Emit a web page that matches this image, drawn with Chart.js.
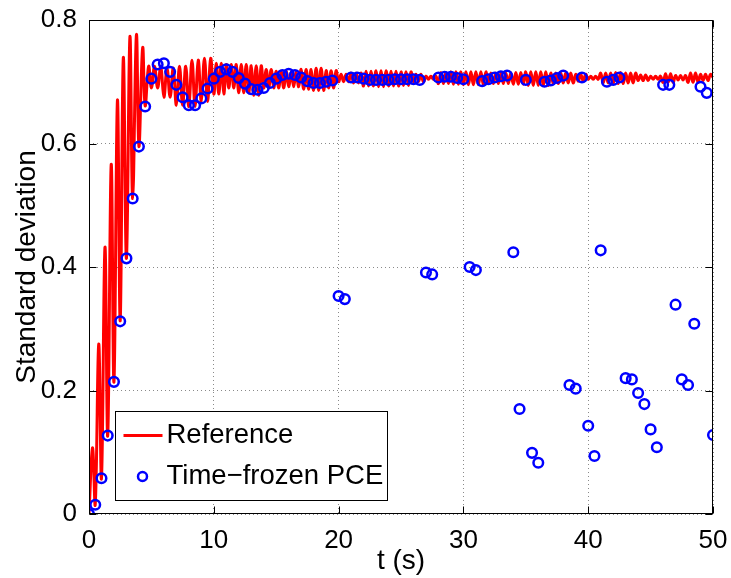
<!DOCTYPE html>
<html lang="en">
<head>
<meta charset="UTF-8">
<title>Standard deviation</title>
<script src="https://cdn.jsdelivr.net/npm/chart.js"></script>
<style>
  html, body { margin: 0; padding: 0; background: #fff; }
</style>
</head>
<body>
<canvas id="chart" width="731" height="578"></canvas>
<script>
  // circles: time-frozen PCE, sampled every 0.5 s
  const pceT = Array.from({length: 101}, (_, i) => i * 0.5);
  const pceV = [
    0.000, 0.015, 0.058, 0.127, 0.214, 0.312, 0.414, 0.511, 0.595, 0.660,
    0.705, 0.728, 0.730, 0.716, 0.695, 0.675, 0.662, 0.662, 0.673, 0.689,
    0.705, 0.716, 0.720, 0.716, 0.706, 0.697, 0.688, 0.687, 0.690, 0.698,
    0.705, 0.711, 0.713, 0.711, 0.707, 0.701, 0.698, 0.698, 0.700, 0.702,
    0.353, 0.348, 0.707, 0.707, 0.705, 0.703, 0.703, 0.703, 0.703, 0.704,
    0.704, 0.704, 0.704, 0.703, 0.391, 0.388, 0.707, 0.708, 0.708, 0.706,
    0.704, 0.400, 0.395, 0.701, 0.704, 0.707, 0.709, 0.710, 0.424, 0.170,
    0.703, 0.099, 0.083, 0.700, 0.702, 0.706, 0.710, 0.209, 0.203, 0.707,
    0.143, 0.094, 0.427, 0.700, 0.703, 0.707, 0.220, 0.218, 0.196, 0.178,
    0.137, 0.108, 0.695, 0.695, 0.339, 0.218, 0.209, 0.308, 0.692, 0.682,
    0.128
  ];

  // reference: initial rise, peaks and troughs
  const riseT = [0, 0.28, 0.5, 0.78, 1.0, 1.28, 1.5, 1.78, 2.0, 2.28, 2.5, 2.75, 3.0, 3.28, 3.5, 3.8, 4.0, 4.3, 4.5, 4.78];
  const riseV = [0, 0.107, 0.015, 0.275, 0.058, 0.432, 0.127, 0.566, 0.214, 0.670, 0.313, 0.739, 0.414, 0.773, 0.511, 0.776, 0.595, 0.755, 0.661, 0.725];

  // reference: ripple top / bottom for each second from t = 5 to 49
  const ripStart = 5;
  const ripHi = [
    0.725, 0.722, 0.725, 0.735, 0.738, 0.730, 0.728, 0.728, 0.726, 0.720,
    0.717, 0.716, 0.720, 0.722, 0.718, 0.712, 0.714, 0.717, 0.718, 0.717,
    0.716, 0.712, 0.709, 0.715, 0.716, 0.716, 0.716, 0.714, 0.714, 0.715,
    0.716, 0.716, 0.714, 0.714, 0.712, 0.709, 0.714, 0.715, 0.714, 0.711,
    0.709, 0.713, 0.710, 0.714, 0.712
  ];
  const ripLo = [
    0.690, 0.675, 0.662, 0.660, 0.668, 0.680, 0.690, 0.682, 0.678, 0.690,
    0.690, 0.692, 0.688, 0.686, 0.690, 0.700, 0.698, 0.693, 0.692, 0.693,
    0.694, 0.700, 0.704, 0.697, 0.696, 0.695, 0.695, 0.697, 0.697, 0.696,
    0.694, 0.694, 0.697, 0.698, 0.701, 0.704, 0.698, 0.697, 0.698, 0.702,
    0.704, 0.699, 0.703, 0.699, 0.702
  ];
  const refEnd = 0.707;

  const xTicks = [0, 10, 20, 30, 40, 50];
  const yTicks = [0, 0.2, 0.4, 0.6, 0.8];

  const pcePts = pceT.map((t, i) => ({x: t, y: pceV[i]}));
  const refPts = riseT.map((t, i) => ({x: t, y: riseV[i]}));
  let k = 0;
  ripHi.forEach((hi, s) => {
    const sec = ripStart + s, n = sec < 10 ? 4 : 5;
    for (let j = 0; j < n; j++) refPts.push({x: sec + j / n, y: k++ % 2 ? hi : ripLo[s]});
  });
  refPts.push({x: 50, y: refEnd});

  const FONT = '"Liberation Sans", Arial, Helvetica, sans-serif';

  // matlab style box, inward ticks and legend
  const frame = {
    id: 'frame',
    afterDatasetsDraw(chart) {
      const {ctx, chartArea: a, scales: {x, y}} = chart;
      ctx.save();
      ctx.strokeStyle = '#000';
      ctx.lineWidth = 1;
      const L = Math.round(a.left) + 0.5, R = Math.round(a.right) - 0.5;
      const T = Math.round(a.top) + 0.5, B = Math.round(a.bottom) - 0.5;
      ctx.strokeRect(L, T, R - L, B - T);
      ctx.beginPath();
      xTicks.forEach(v => {
        const p = Math.round(x.getPixelForValue(v)) + 0.5;
        ctx.moveTo(p, B); ctx.lineTo(p, B - 7);
        ctx.moveTo(p, T); ctx.lineTo(p, T + 7);
      });
      yTicks.forEach(v => {
        const p = Math.round(y.getPixelForValue(v)) + 0.5;
        ctx.moveTo(L, p); ctx.lineTo(L + 7, p);
        ctx.moveTo(R, p); ctx.lineTo(R - 7, p);
      });
      ctx.stroke();

      // legend
      const lx = L + 26, ly = B - 102, lw = 272, lh = 89;
      ctx.fillStyle = '#fff';
      ctx.fillRect(lx, ly, lw, lh);
      ctx.strokeRect(lx, ly, lw, lh);
      ctx.strokeStyle = '#ff0000';
      ctx.lineWidth = 3;
      ctx.beginPath();
      ctx.moveTo(lx + 8, ly + 24); ctx.lineTo(lx + 47, ly + 24);
      ctx.stroke();
      ctx.strokeStyle = '#0000ff';
      ctx.lineWidth = 2.5;
      ctx.beginPath();
      ctx.arc(lx + 27, ly + 65, 4.5, 0, Math.PI * 2);
      ctx.stroke();
      ctx.fillStyle = '#000';
      ctx.font = '27.5px ' + FONT;
      ctx.textBaseline = 'middle';
      ctx.fillText('Reference', lx + 51, ly + 24);
      ctx.fillText('Time\u2212frozen PCE', lx + 51, ly + 65);
      ctx.restore();
    }
  };

  new Chart(document.getElementById('chart'), {
    type: 'scatter',
    data: {
      datasets: [
        {
          label: 'Time\u2212frozen PCE',
          data: pcePts,
          showLine: false,
          pointRadius: 4.8,
          pointBorderWidth: 2.5,
          borderColor: '#0000ff',
          backgroundColor: 'rgba(0,0,0,0)',
          order: 0
        },
        {
          label: 'Reference',
          data: refPts,
          showLine: true,
          borderColor: '#ff0000',
          borderWidth: 3,
          pointRadius: 0,
          tension: 0.4,
          order: 1
        }
      ]
    },
    options: {
      responsive: false,
      animation: false,
      layout: {padding: {top: 20, right: 18, left: 0, bottom: 0}},
      plugins: {legend: {display: false}, tooltip: {enabled: false}},
      scales: {
        x: {
          type: 'linear', min: 0, max: 50,
          afterBuildTicks: s => { s.ticks = xTicks.map(v => ({value: v})); },
          ticks: {color: '#000', font: {family: FONT, size: 26}, padding: 11, maxRotation: 0},
          grid: {color: '#8a8a8a', drawTicks: false},
          border: {display: false, dash: [1, 3]},
          title: {display: true, text: 't (s)', color: '#000', font: {family: FONT, size: 28}, padding: {top: 0, bottom: 0}},
          afterFit: s => { s.height = 64; s.paddingLeft = 0; s.paddingRight = 0; }
        },
        y: {
          min: 0, max: 0.8,
          afterBuildTicks: s => { s.ticks = yTicks.map(v => ({value: v})); },
          ticks: {color: '#000', font: {family: FONT, size: 26}, padding: 12},
          grid: {color: '#8a8a8a', drawTicks: false},
          border: {display: false, dash: [1, 3]},
          title: {display: true, text: 'Standard deviation', color: '#000', font: {family: FONT, size: 28}, padding: {top: 10, bottom: 0}},
          afterFit: s => { s.width = 89; s.paddingTop = 0; s.paddingBottom = 0; }
        }
      }
    },
    plugins: [frame]
  });
</script>
</body>
</html>
